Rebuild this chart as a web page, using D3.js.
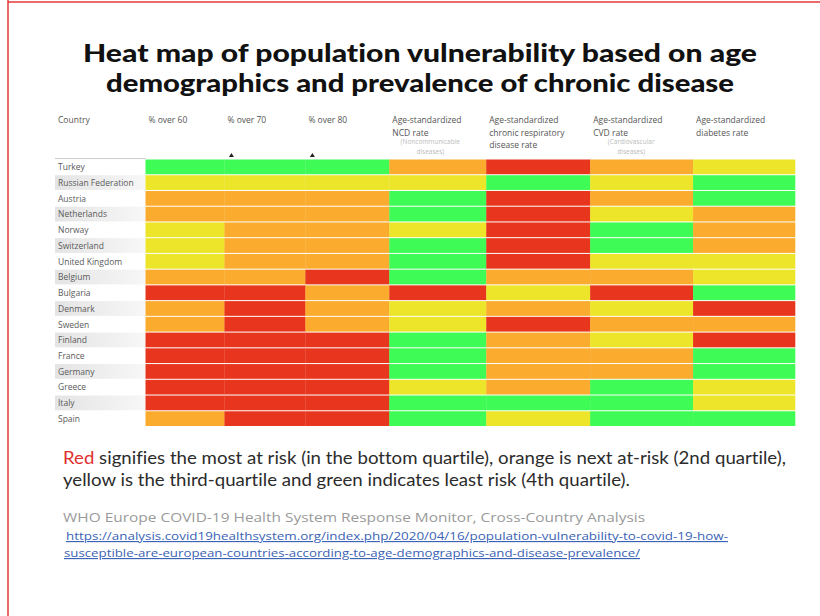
<!DOCTYPE html>
<html>
<head>
<meta charset="utf-8">
<script src="https://cdn.jsdelivr.net/npm/d3@7"></script>
<style>
  body { margin: 0; background: #fff; }
  text { font-family: "Open Sans", "Noto Sans", sans-serif; }
  .title, .caption { font-family: Lato, "Open Sans", sans-serif; font-variant-ligatures: none; }
</style>
</head>
<body>
<div id="heatmap"></div>
<script>
// rows and columns of the heat map
var countries = ["Turkey", "Russian Federation", "Austria", "Netherlands", "Norway",
  "Switzerland", "United Kingdom", "Belgium", "Bulgaria", "Denmark", "Sweden",
  "Finland", "France", "Germany", "Greece", "Italy", "Spain"];
var measures = ["over60", "over70", "over80", "ncd", "resp", "cvd", "diabetes"];

// quartile per country: 1 = red (most at risk) ... 4 = green (least risk)
var over60   = [4, 3, 2, 2, 3, 3, 3, 2, 1, 2, 2, 1, 1, 1, 1, 1, 2];
var over70   = [4, 3, 2, 2, 2, 2, 2, 2, 1, 1, 1, 1, 1, 1, 1, 1, 1];
var over80   = [4, 3, 2, 2, 2, 2, 2, 1, 2, 2, 2, 1, 1, 1, 1, 1, 1];
var ncd      = [2, 3, 4, 4, 3, 4, 4, 4, 1, 3, 3, 4, 4, 4, 3, 4, 4];
var resp     = [1, 4, 1, 1, 1, 1, 1, 2, 3, 2, 1, 2, 2, 2, 2, 4, 3];
var cvd      = [2, 3, 2, 3, 4, 4, 3, 2, 1, 3, 2, 3, 2, 2, 4, 4, 4];
var diabetes = [3, 4, 4, 2, 2, 2, 3, 3, 4, 1, 2, 1, 4, 4, 3, 3, 4];

// header labels
var headerLines = [["% over 60"], ["% over 70"], ["% over 80"],
  ["Age-standardized", "NCD rate"],
  ["Age-standardized", "chronic respiratory", "disease rate"],
  ["Age-standardized", "CVD rate"],
  ["Age-standardized", "diabetes rate"]];
var headerNotes = [[], [], [], ["(Noncommunicable", "diseases)"], [], ["(Cardiovascular", "diseases)"], []];
var sortedCols = ["over70", "over80"];

var seriesByKey = {over60: over60, over70: over70, over80: over80, ncd: ncd,
  resp: resp, cvd: cvd, diabetes: diabetes};

var width = 820, height = 616;
// column widths are relative (layout only)
var colWeights = [79, 81, 84, 97, 104, 103, 102];

var svg = d3.select("#heatmap").append("svg")
  .attr("width", width)
  .attr("height", height);

var defs = svg.append("defs");
var grad = defs.append("linearGradient").attr("id", "rowGrey");
grad.append("stop").attr("offset", "0%").attr("stop-color", "#e4e4e4");
grad.append("stop").attr("offset", "100%").attr("stop-color", "#f7f7f7");

// frame
svg.append("line").attr("x1", 8).attr("x2", 8).attr("y1", 0).attr("y2", height)
  .attr("stroke", "#e5393b").attr("stroke-width", 1.5);
svg.append("line").attr("x1", 8).attr("x2", width).attr("y1", 2).attr("y2", 2)
  .attr("stroke", "#e5393b").attr("stroke-width", 1.5);

// title
var title = ["Heat map of population vulnerability based on age",
  "demographics and prevalence of chronic disease"];
var titleLen = [674, 628];
svg.selectAll(".title").data(title).enter().append("text")
  .attr("class", "title")
  .attr("x", 420)
  .attr("y", function(d, i) { return 62 + i * 30; })
  .attr("text-anchor", "middle")
  .attr("textLength", function(d, i) { return titleLen[i]; })
  .attr("lengthAdjust", "spacingAndGlyphs")
  .style("font-size", "25px")
  .style("font-weight", 900)
  .style("fill", "#111")
  .text(function(d) { return d; });

// scales
var cum = [0];
colWeights.forEach(function(w) { cum.push(cum[cum.length - 1] + w); });
var xLin = d3.scaleLinear().domain([0, cum[cum.length - 1]]).range([145.5, 795]);
var xScale = d3.scaleOrdinal().domain(measures).range(cum.slice(0, -1).map(xLin));
var colWidth = function(key) {
  var i = measures.indexOf(key);
  return xLin(cum[i + 1]) - xLin(cum[i]);
};
var yScale = d3.scaleBand().domain(countries).range([159.5, 427]);
var color = d3.scaleOrdinal().domain([1, 2, 3, 4])
  .range(["#e8361e", "#fbab2d", "#ece52a", "#3ffb56"]);

// header
svg.append("text").attr("x", 58).attr("y", 123)
  .style("font-size", "8.5px").style("fill", "#555").text("Country");

var head = svg.selectAll(".head").data(measures).enter().append("g")
  .attr("class", "head")
  .attr("transform", function(d) { return "translate(" + (xScale(d) + 3) + ",0)"; });
head.selectAll(".hl").data(function(d, i) { return headerLines[i]; }).enter().append("text")
  .attr("class", "hl")
  .attr("y", function(d, i) { return 123 + i * 12.5; })
  .style("font-size", "8.5px").style("fill", "#555")
  .text(function(d) { return d; });
head.selectAll(".hn").data(function(d, i) { return headerNotes[i]; }).enter().append("text")
  .attr("class", "hn")
  .attr("x", 38)
  .attr("y", function(d, i) { return 143.5 + i * 10; })
  .attr("text-anchor", "middle")
  .style("font-size", "6.5px").style("fill", "#bbb")
  .text(function(d) { return d; });

svg.selectAll(".sortmark").data(sortedCols).enter().append("path")
  .attr("class", "sortmark")
  .attr("d", function(d) {
    var x = xScale(d) + 7;
    return "M" + (x - 2.5) + ",157 L" + (x + 2.5) + ",157 L" + x + ",153 Z";
  })
  .style("fill", "#222");

svg.append("line").attr("x1", 55).attr("x2", 145.5).attr("y1", 158.5).attr("y2", 158.5)
  .attr("stroke", "#ccc").attr("stroke-width", 1);

// row labels
var rowLab = svg.selectAll(".rowlab").data(countries).enter().append("g")
  .attr("class", "rowlab")
  .attr("transform", function(d) { return "translate(0," + yScale(d) + ")"; });
rowLab.filter(function(d, i) { return i % 2 === 1; }).append("rect")
  .attr("x", 55).attr("width", 90).attr("height", yScale.bandwidth() - 1)
  .style("fill", "url(#rowGrey)");
rowLab.append("text")
  .attr("x", 58)
  .attr("y", yScale.bandwidth() / 2 + 2.8)
  .style("font-size", "8.5px").style("fill", "#5a5a5a")
  .text(function(d) { return d; });

// cells
var cells = [];
measures.forEach(function(m) {
  seriesByKey[m].forEach(function(v, i) {
    cells.push({measure: m, country: countries[i], value: v});
  });
});
svg.selectAll(".cell").data(cells).enter().append("rect")
  .attr("class", "cell")
  .attr("x", function(d) { return xScale(d.measure); })
  .attr("y", function(d) { return yScale(d.country); })
  .attr("width", function(d) { return colWidth(d.measure) + 0.3; })
  .attr("height", yScale.bandwidth() - 1)
  .style("fill", function(d) { return color(d.value); });

// caption
var cap1 = svg.append("text").attr("class", "caption").attr("x", 63).attr("y", 464)
  .attr("textLength", 723).attr("lengthAdjust", "spacingAndGlyphs")
  .style("font-size", "17.5px").style("fill", "#2b2b2b");
cap1.append("tspan").style("fill", "#e0302e").text("Red");
cap1.append("tspan").text(" signifies the most at risk (in the bottom quartile), orange is next at-risk (2nd quartile),");
svg.append("text").attr("class", "caption").attr("x", 63).attr("y", 486)
  .attr("textLength", 567).attr("lengthAdjust", "spacingAndGlyphs")
  .style("font-size", "17.5px").style("fill", "#2b2b2b")
  .text("yellow is the third-quartile and green indicates least risk (4th quartile).");

svg.append("text").attr("x", 63).attr("y", 522)
  .attr("textLength", 582).attr("lengthAdjust", "spacingAndGlyphs")
  .style("font-size", "13.5px").style("fill", "#9a9a9a")
  .text("WHO Europe COVID-19 Health System Response Monitor, Cross-Country Analysis");

var linkLines = ["https://analysis.covid19healthsystem.org/index.php/2020/04/16/population-vulnerability-to-covid-19-how-",
  "susceptible-are-european-countries-according-to-age-demographics-and-disease-prevalence/"];
var linkLen = [662, 576];
svg.selectAll(".link").data(linkLines).enter().append("text")
  .attr("class", "link")
  .attr("x", function(d, i) { return i === 0 ? 66 : 64; })
  .attr("y", function(d, i) { return 540 + i * 17; })
  .attr("textLength", function(d, i) { return linkLen[i]; })
  .attr("lengthAdjust", "spacingAndGlyphs")
  .style("font-size", "11.5px").style("fill", "#3a62b5")
  .style("text-decoration", "underline")
  .text(function(d) { return d; });
</script>
</body>
</html>
